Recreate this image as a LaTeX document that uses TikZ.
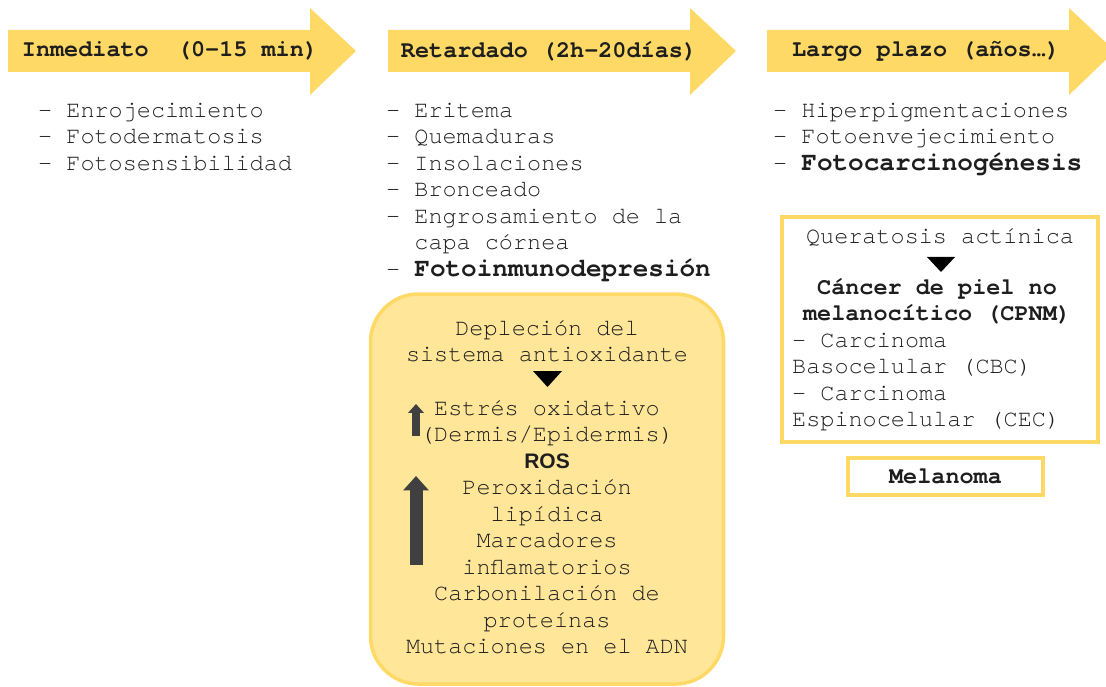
\documentclass[tikz,border=0pt]{standalone}
\usepackage{fontspec}
\setmainfont{TeX Gyre Cursor}
\newfontfamily\rosfont{Liberation Sans}
\usetikzlibrary{arrows.meta}
\definecolor{oro}{HTML}{FFD966}
\definecolor{orosuave}{HTML}{FFE699}
\definecolor{tinta}{HTML}{1E1E1E}
\definecolor{gris}{HTML}{404040}
\newcommand{\resalta}[1]{{\fontsize{26}{26.5}\selectfont\bfseries #1}}
\tikzset{x=1pt, y=-1pt,
  txt/.style={inner sep=0pt, text=tinta, font=\fontsize{23.5}{26.5}\selectfont},
  lista/.style={txt, align=left, anchor=north west},
  cabecera/.style={txt, font=\fontsize{23.5}{26.5}\selectfont\bfseries},
  caja/.style={draw=oro, line width=3.5pt, fill=white},
  flecha/.style={-{Triangle[width=#1*1.9, length=#1*1.1]}, line width=#1, draw=gris}}

\begin{document}
\begin{tikzpicture}
\useasboundingbox (0,0) rectangle (1106,687);

% flechas de las fases
\foreach \d in {0,380,759}
  \fill[oro] (8+\d,30) -- (310+\d,30) -- (310+\d,8) -- (356+\d,51)
    -- (310+\d,95) -- (310+\d,72) -- (8+\d,72) -- cycle;

\node[cabecera] (inm) at (170,51) {Inmediato\ \ (0-15 min)};
\node[cabecera] (ret) at (549,51) {Retardado (2h-20días)};
\node[cabecera] (lar) at (926,51) {Largo plazo (años…)};

% efectos
\node[lista] (efinm) at (38,98.5) {\strut- Enrojecimiento\\- Fotodermatosis\\- Fotosensibilidad};
\node[lista] (efret) at (386,98.5) {\strut- Eritema\\- Quemaduras\\- Insolaciones\\- Bronceado\\
  - Engrosamiento de la\\\hphantom{- }capa córnea\\- \resalta{Fotoinmunodepresión}};
\node[lista] (eflar) at (773,98.5) {\strut- Hiperpigmentaciones\\- Fotoenvejecimiento\\- \resalta{Fotocarcinogénesis}};

% recuadro ROS
\node[draw=oro, line width=3.5pt, fill=orosuave, rounded corners=48pt,
  minimum width=353pt, minimum height=390pt] (ros) at (547,489) {};
\node[txt, align=center, anchor=north] (dep) at (547,316.5) {\strut Depleción del\\sistema antioxidante};
\fill[black] (533,371) -- (562,371) -- (547.5,387) -- cycle;
\node[txt, align=center, anchor=north] (est) at (547,396.5) {\strut Estrés oxidativo\\(Dermis/Epidermis)\\
  {\rosfont\bfseries\fontsize{21}{26.5}\selectfont ROS}\\Peroxidación\\lipídica\\Marcadores\\inflamatorios\\
  Carbonilación de\\proteínas\\Mutaciones en el ADN};
\coordinate (s1a) at (416,436);
\coordinate (s1b) at (416,404);
\coordinate (s2a) at (416,565);
\coordinate (s2b) at (416,476);
\draw[flecha=8pt] (s1a) -- (s1b);
\draw[flecha=13pt] (s2a) -- (s2b);

% recuadro cancer
\node[caja, minimum width=316pt, minimum height=225pt] (cpnm) at (940,329.5) {};
\node[txt] (quer) at (940,237) {Queratosis actínica};
\fill[black] (927,257) -- (955,257) -- (941,272) -- cycle;
\node[txt, align=center, anchor=north, font=\fontsize{23.5}{26.5}\selectfont\bfseries] (cpl) at (937,275.5)
  {\strut Cáncer de piel no\\melanocítico (CPNM)};
\node[lista] (carc) at (792,328.5) {\strut- Carcinoma\\Basocelular (CBC)\\- Carcinoma\\Espinocelular (CEC)};

\node[caja, minimum width=195pt, minimum height=37pt, font=\fontsize{23.5}{26.5}\selectfont\bfseries,
  text=tinta] (mel) at (945.5,476.5) {Melanoma};
\end{tikzpicture}
\end{document}
